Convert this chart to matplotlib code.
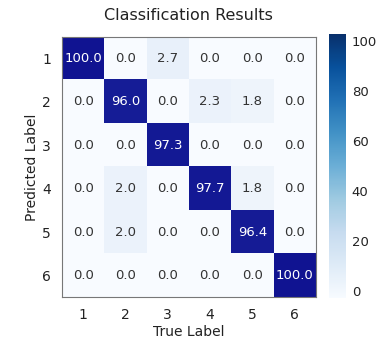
import matplotlib
matplotlib.use("Agg")
import matplotlib.pyplot as plt
import numpy as np
from matplotlib.colors import LinearSegmentedColormap, Normalize
from matplotlib.cm import ScalarMappable

labels = ['1', '2', '3', '4', '5', '6']
values = np.array([
    [100.0, 0.0, 2.7, 0.0, 0.0, 0.0],
    [0.0, 96.0, 0.0, 2.3, 1.8, 0.0],
    [0.0, 0.0, 97.3, 0.0, 0.0, 0.0],
    [0.0, 2.0, 0.0, 97.7, 1.8, 0.0],
    [0.0, 2.0, 0.0, 0.0, 96.4, 0.0],
    [0.0, 0.0, 0.0, 0.0, 0.0, 100.0],
])

norm = Normalize(vmin=-3, vmax=103)
cell_cmap = LinearSegmentedColormap.from_list(
    'cells', [(0.0, '#fafcff'), (0.03, '#f8fbff'), (0.06, '#e2ecf8'),
              (0.5, '#5a8fd0'), (1.0, '#0c0c8e')])

fig = plt.figure(figsize=(3.8, 3.38), dpi=100)
ax = fig.add_axes([0.163, 0.121, 0.668, 0.770])
cax = fig.add_axes([0.866, 0.118, 0.045, 0.782])

ax.imshow(values, cmap=cell_cmap, norm=norm, aspect='auto')
for i in range(values.shape[0]):
    for j in range(values.shape[1]):
        v = values[i, j]
        ax.text(j, i, f'{v:.1f}', ha='center', va='center', fontsize=9.5,
                color='white' if v > 50 else '#333333')

ax.set_xticks(range(len(labels)))
ax.set_yticks(range(len(labels)))
ax.set_xticklabels(labels)
ax.set_yticklabels(labels)
ax.tick_params(length=0, labelsize=10, colors='#222222', pad=8)
for s in ax.spines.values():
    s.set_color('#777777')
    s.set_linewidth(0.8)
ax.set_xlabel('True Label', fontsize=10, color='#222222', labelpad=2)
ax.set_ylabel('Predicted Label', fontsize=10, color='#222222', labelpad=2)
ax.set_title('Classification Results', fontsize=11.5, color='#222222', pad=12)

cb = fig.colorbar(ScalarMappable(norm=norm, cmap='Blues'), cax=cax)
cb.set_ticks([0, 20, 40, 60, 80, 100])
cb.outline.set_visible(False)
cax.tick_params(length=0, labelsize=9.5, colors='#222222', pad=4)

fig.savefig('out.png', dpi=100)
